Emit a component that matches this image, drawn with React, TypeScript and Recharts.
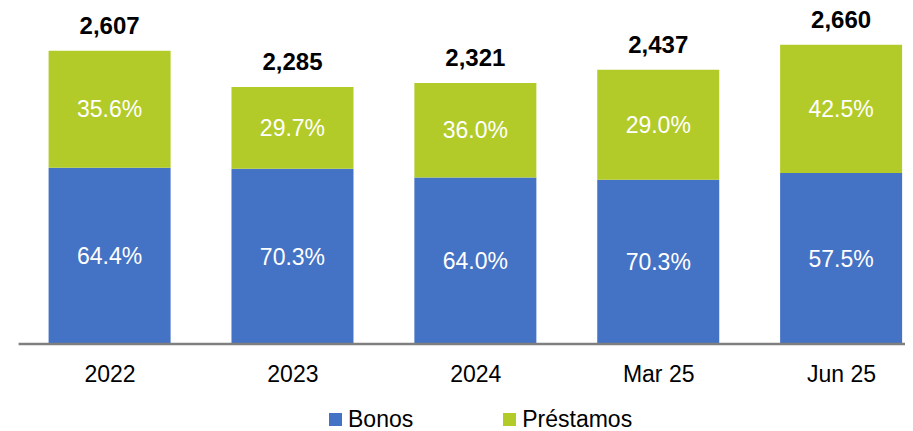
import { Bar, BarChart, LabelList, XAxis, YAxis } from "recharts";

const categories = ["2022", "2023", "2024", "Mar 25", "Jun 25"];
const totals = [2607, 2285, 2321, 2437, 2660];
const bonos = [1566, 1557, 1479, 1459, 1521];
const prestamos = [1041, 728, 842, 978, 1139];
const bonosShare = ["64.4%", "70.3%", "64.0%", "70.3%", "57.5%"];
const prestamosShare = ["35.6%", "29.7%", "36.0%", "29.0%", "42.5%"];

const BLUE = "#4472C4";
const GREEN = "#B2CB29";
const FONT = "'Liberation Sans', Arial, sans-serif";

const series = [
  { key: "bonos", name: "Bonos", color: BLUE },
  { key: "prestamos", name: "Préstamos", color: GREEN },
];

const data = categories.map((name, i) => ({
  name,
  total: totals[i].toLocaleString("en-US"),
  bonos: bonos[i],
  prestamos: prestamos[i],
  bonosShare: bonosShare[i],
  prestamosShare: prestamosShare[i],
}));

function TotalLabel(props: any) {
  const { x, y, width, value } = props;
  return (
    <text
      x={x + width / 2}
      y={y - 17}
      textAnchor="middle"
      fontFamily={FONT}
      fontSize={24}
      fontWeight="bold"
      fill="#000"
    >
      {value}
    </text>
  );
}

export default function App() {
  // pulled up over the body margin so the top labels are not clipped
  return (
    <div
      style={{
        position: "relative",
        marginTop: -8,
        width: 905,
        height: 431,
        overflow: "hidden",
        fontFamily: FONT,
      }}
    >
      <BarChart
        width={925}
        height={431}
        data={data}
        margin={{ top: 29, right: 0, left: 10.6, bottom: 47 }}
      >
        <XAxis
          dataKey="name"
          height={40}
          tickLine={false}
          tickSize={0}
          tickMargin={22}
          axisLine={{ stroke: "#7F7F7F", strokeWidth: 2.6 }}
          tick={{ fill: "#000", fontSize: 23, fontFamily: FONT }}
        />
        <YAxis hide domain={[0, 2800]} />
        <Bar dataKey="bonos" stackId="a" fill={BLUE} barSize={122} isAnimationActive={false}>
          <LabelList
            dataKey="bonosShare"
            position="center"
            fill="#fff"
            fontSize={23}
            fontFamily={FONT}
          />
        </Bar>
        <Bar dataKey="prestamos" stackId="a" fill={GREEN} barSize={122} isAnimationActive={false}>
          <LabelList
            dataKey="prestamosShare"
            position="center"
            fill="#fff"
            fontSize={23}
            fontFamily={FONT}
          />
          <LabelList dataKey="total" content={TotalLabel} />
        </Bar>
      </BarChart>
      <div
        style={{
          position: "absolute",
          left: 321,
          top: 408,
          display: "flex",
          alignItems: "center",
          gap: 90,
          fontSize: 23,
          lineHeight: "23px",
          color: "#000",
        }}
      >
        {series.map((s) => (
          <div key={s.key} style={{ display: "flex", alignItems: "center", gap: 6 }}>
            <span style={{ display: "inline-block", width: 13, height: 13, background: s.color }} />
            <span>{s.name}</span>
          </div>
        ))}
      </div>
    </div>
  );
}
